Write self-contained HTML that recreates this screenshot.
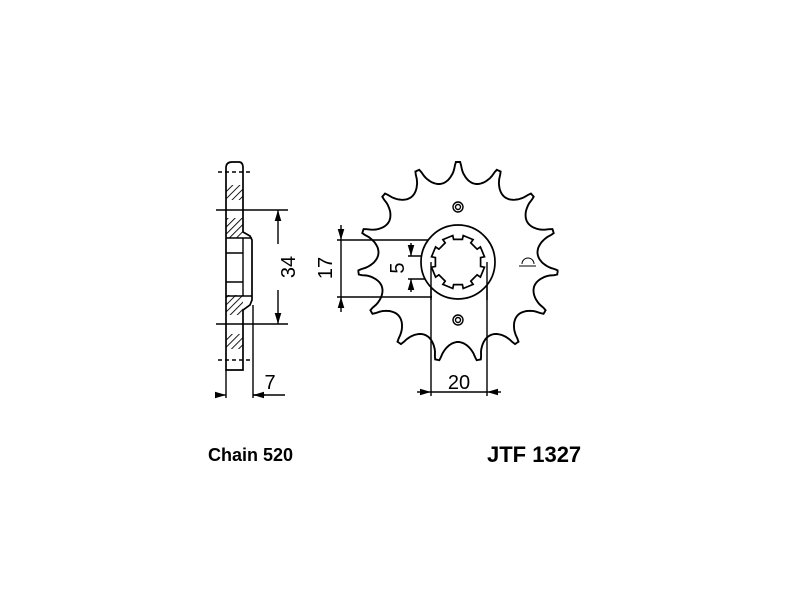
<!DOCTYPE html>
<html><head><style>
html,body{margin:0;padding:0;background:#fff;width:800px;height:600px;overflow:hidden}
svg{display:block}
text{font-family:"Liberation Sans",sans-serif;fill:#000}
</style></head><body>
<svg id="s" width="800" height="600" viewBox="0 0 800 600" xmlns="http://www.w3.org/2000/svg">
<defs>
<pattern id="h" width="5" height="5" patternUnits="userSpaceOnUse" patternTransform="rotate(45)">
<line x1="0" y1="0" x2="0" y2="5" stroke="#000" stroke-width="1.8"/></pattern>
<marker id="a" viewBox="0 0 10 10" refX="10" refY="5" markerWidth="8" markerHeight="8" orient="auto-start-reverse"><path d="M0,2 L10,5 L0,8 z" fill="#000"/></marker>
</defs>
<g stroke="#000" fill="none" stroke-width="1.4">
<path d="M226,370 L226,168 Q226,162 232,162 L239,162 Q243,162 243,168 L243,232 L250,236 L252,240 L252,300 L250,305 L243,310 L243,370 Z" fill="#fff" stroke-width="1.7"/>
<rect x="226" y="185" width="17" height="15" fill="url(#h)" stroke="none"/>
<rect x="226" y="218" width="17" height="20" fill="url(#h)" stroke="none"/>
<rect x="226" y="295" width="17" height="20" fill="url(#h)" stroke="none"/>
<rect x="226" y="334" width="17" height="15" fill="url(#h)" stroke="none"/>
<line x1="226" y1="238" x2="252" y2="238"/><line x1="226" y1="296" x2="252" y2="296"/>
<line x1="226" y1="253" x2="243" y2="253"/><line x1="226" y1="282" x2="243" y2="282"/>
<line x1="243" y1="238" x2="243" y2="296"/>
<line x1="218" y1="172" x2="250" y2="172" stroke-dasharray="4,3"/>
<line x1="218" y1="360" x2="250" y2="360" stroke-dasharray="4,3"/>
<line x1="216" y1="210" x2="288" y2="210"/><line x1="216" y1="324" x2="288" y2="324"/>
<line x1="278" y1="244" x2="278" y2="210" marker-end="url(#a)"/>
<line x1="278" y1="290" x2="278" y2="324" marker-end="url(#a)"/>
<line x1="226" y1="370" x2="226" y2="398"/><line x1="253" y1="305" x2="253" y2="398"/>
<line x1="216" y1="395" x2="226" y2="395" marker-end="url(#a)"/>
<line x1="265" y1="395" x2="253" y2="395" marker-end="url(#a)"/>
<line x1="253" y1="395" x2="285" y2="395"/>
<line x1="337" y1="240" x2="432" y2="240"/><line x1="337" y1="297" x2="432" y2="297"/>
<line x1="341" y1="225" x2="341" y2="240" marker-end="url(#a)"/>
<line x1="341" y1="312" x2="341" y2="297" marker-end="url(#a)"/>
<line x1="341" y1="240" x2="341" y2="297"/>
<line x1="408" y1="256" x2="432" y2="256"/><line x1="408" y1="279" x2="432" y2="279"/>
<line x1="411" y1="243" x2="411" y2="256" marker-end="url(#a)"/>
<line x1="411" y1="292" x2="411" y2="279" marker-end="url(#a)"/>
<line x1="431" y1="262" x2="431" y2="396"/><line x1="487" y1="262" x2="487" y2="396"/>
<line x1="417" y1="392" x2="431" y2="392" marker-end="url(#a)"/>
<line x1="501" y1="392" x2="487" y2="392" marker-end="url(#a)"/>
<line x1="431" y1="392" x2="487" y2="392"/>
<path id="spr" fill="none" stroke-width="1.9"/>
<circle cx="458" cy="262" r="37" fill="#fff" stroke-width="1.7"/>
<path id="spl" fill="#fff" stroke-width="1.7"/>
<circle cx="458" cy="207" r="5"/><circle cx="458" cy="207" r="2.5"/>
<circle cx="458" cy="320" r="5"/><circle cx="458" cy="320" r="2.5"/>
<line x1="431" y1="262" x2="431" y2="300"/><line x1="487" y1="262" x2="487" y2="300"/>
<line x1="519" y1="266" x2="536" y2="266" stroke-width="1"/>
<path d="M522,264 A6,6 0 0 1 534,264" stroke-width="1"/>
</g>
<text x="288" y="267" font-size="20" text-anchor="middle" transform="rotate(-90 288 267)" dy="7">34</text>
<text x="270" y="389" font-size="20" text-anchor="middle">7</text>
<text x="325" y="268" font-size="20" text-anchor="middle" transform="rotate(-90 325 268)" dy="7">17</text>
<text x="397" y="268" font-size="20" text-anchor="middle" transform="rotate(-90 397 268)" dy="7">5</text>
<text x="459" y="389" font-size="20" text-anchor="middle">20</text>
<text x="208" y="461" font-size="18" font-weight="bold">Chain 520</text>
<text x="487" y="462" font-size="22" font-weight="bold">JTF 1327</text>
</svg>
<script>
(function(){
var cx=458,cy=262,N=15,Ro=100,Rr=80,H=Ro-Rr,d="",S=40;
for(var i=0;i<N;i++){
 for(var j=0;j<S;j++){
  var u=j/S, dd=Math.min(u,1-u);
  var x0=Math.max(0,Math.min(1,(0.5-dd)/0.43));
  var r=Rr+H*(1-Math.sqrt(1-x0*x0));
  var t=(-90+360*(i+u)/N)*Math.PI/180;
  var x=cx+r*Math.cos(t),y=cy+r*Math.sin(t);
  d+=(i==0&&j==0?"M":"L")+x.toFixed(1)+","+y.toFixed(1);
 }
}
document.getElementById("spr").setAttribute("d",d+"Z");
var s="",M=8;
for(var k=0;k<M;k++){
 var b=(360*k/M+22.5)*Math.PI/180,w=0.2,st2=2*Math.PI/M;
 var p=[[27,-w],[27,w],[23,w],[23,st2-w]];
 for(var j=0;j<p.length;j++){
  var t=b+p[j][1];var x=cx+p[j][0]*Math.cos(t),y=cy+p[j][0]*Math.sin(t);
  s+=(k==0&&j==0?"M":"L")+x.toFixed(1)+","+y.toFixed(1);
 }
}
document.getElementById("spl").setAttribute("d",s+"Z");
})();
</script>
</body></html>
